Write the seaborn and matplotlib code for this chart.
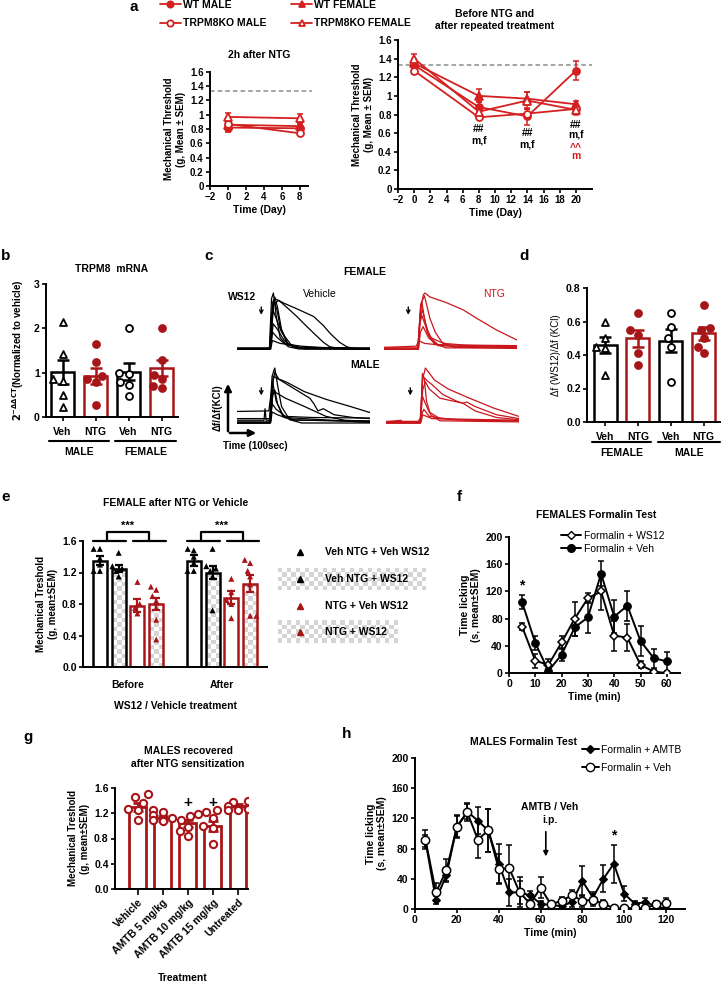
import numpy as np
import pandas as pd
import matplotlib
matplotlib.use("Agg")
import matplotlib.pyplot as plt
from matplotlib.colors import ListedColormap
from matplotlib.lines import Line2D
from matplotlib.patches import FancyArrowPatch
from matplotlib.ticker import FuncFormatter
import seaborn as sns

# ======================= DATA =======================
# --- a : mechanical threshold ---
a_labels = ["WT MALE", "WT FEMALE", "TRPM8KO MALE", "TRPM8KO FEMALE"]
a_days_2h = [0, 8]
a2h_wt_male = [0.82, 0.81]
a2h_wt_male_sem = [0.06, 0.04]
a2h_wt_female = [0.86, 0.84]
a2h_wt_female_sem = [0.04, 0.04]
a2h_ko_male = [0.87, 0.74]
a2h_ko_male_sem = [0.04, 0.03]
a2h_ko_female = [0.97, 0.95]
a2h_ko_female_sem = [0.06, 0.06]
a_days_rep = [0, 8, 14, 20]
arep_wt_male = [1.33, 0.88, 0.78, 1.27]
arep_wt_male_sem = [0.05, 0.05, 0.09, 0.10]
arep_wt_female = [1.35, 1.00, 0.97, 0.91]
arep_wt_female_sem = [0.05, 0.07, 0.07, 0.04]
arep_ko_male = [1.27, 0.77, 0.81, 0.86]
arep_ko_male_sem = [0.03, 0.02, 0.05, 0.04]
arep_ko_female = [1.40, 0.83, 0.95, 0.85]
arep_ko_female_sem = [0.05, 0.04, 0.09, 0.05]
a_baseline = 1.33

# --- b : TRPM8 mRNA ---
b_cats = ["M-Veh", "M-NTG", "F-Veh", "F-NTG"]
b_ticklabels = ["Veh", "NTG", "Veh", "NTG"]
b_means = [1.02, 0.92, 1.02, 1.10]
b_sem = [0.27, 0.18, 0.19, 0.18]
b_pts_m_veh = [2.15, 1.42, 0.85, 0.82, 0.50, 0.22]
b_pts_m_ntg = [1.65, 1.25, 0.92, 0.78, 0.85, 0.28]
b_pts_f_veh = [2.00, 1.00, 0.97, 0.80, 0.72, 0.48]
b_pts_f_ntg = [2.00, 1.28, 0.95, 0.85, 0.70, 0.65]

# --- c : calcium traces (time s, normalised df/df(KCl)) ---
c_tmax = 493
c_ws12_time = 90
c_fem_veh = [
    [(0, 0), (120, 0), (128, 0.9), (135, 1.0), (145, 0.6), (160, 0.2), (190, 0.04), (230, 0), (493, 0)],
    [(0, 0.01), (121, 0.01), (131, 0.75), (140, 0.93), (150, 0.75), (165, 0.35), (190, 0.08), (240, 0.01), (493, 0.01)],
    [(0, 0), (122, 0), (133, 0.85), (140, 0.9), (173, 0.82), (230, 0.70), (284, 0.58), (320, 0.42), (345, 0.28), (380, 0.12), (407, 0.04), (440, 0), (493, 0)],
    [(0, 0), (123, 0), (136, 0.8), (155, 0.87), (190, 0.72), (222, 0.58), (255, 0.42), (285, 0.28), (320, 0.12), (344, 0.04), (389, 0), (493, 0)],
    [(0, 0), (122, 0), (130, 0.6), (138, 0.85), (148, 0.7), (160, 0.4), (185, 0.1), (220, 0.02), (493, 0)],
    [(0, 0), (123, 0), (133, 0.7), (145, 0.55), (165, 0.3), (200, 0.08), (250, 0), (493, 0)],
    [(0, 0), (124, 0), (134, 0.45), (150, 0.35), (175, 0.15), (210, 0.03), (493, 0)],
    [(0, 0.02), (124, 0.02), (132, 0.3), (150, 0.2), (180, 0.08), (230, 0.03), (493, 0.02)],
    [(0, 0), (125, 0), (131, 0.15), (160, 0.1), (240, 0.05), (330, 0.02), (493, 0)],
]
c_fem_ntg = [
    [(0, 0), (125, 0), (135, 0.7), (146, 0.97), (152, 1.0), (170, 0.93), (230, 0.83), (293, 0.70), (350, 0.53), (417, 0.34), (493, 0.16)],
    [(0, 0), (126, 0), (136, 0.8), (150, 0.95), (160, 0.75), (170, 0.55), (190, 0.3), (215, 0.12), (260, 0.03), (493, 0.01)],
    [(0, 0.01), (126, 0.01), (133, 0.55), (140, 0.85), (148, 0.6), (160, 0.3), (185, 0.1), (230, 0.02), (493, 0.02)],
    [(0, 0), (127, 0), (134, 0.5), (142, 0.72), (152, 0.5), (168, 0.22), (200, 0.08), (493, 0.04)],
    [(0, 0.02), (127, 0.02), (133, 0.45), (140, 0.6), (155, 0.4), (175, 0.2), (220, 0.1), (300, 0.07), (493, 0.06)],
    [(0, 0), (128, 0), (135, 0.3), (145, 0.4), (165, 0.2), (200, 0.06), (493, 0.02)],
    [(0, 0.03), (60, 0.04), (120, 0.05), (128, 0.15), (150, 0.1), (250, 0.05), (493, 0.03)],
]
c_male_veh = [
    [(0, 0), (120, 0), (130, 0.85), (140, 1.0), (150, 0.7), (165, 0.3), (195, 0.06), (240, 0), (493, 0)],
    [(0, 0.21), (118, 0.22), (128, 0.6), (140, 0.92), (155, 0.8), (185, 0.74), (250, 0.57), (330, 0.43), (420, 0.3), (493, 0.19)],
    [(0, 0), (123, 0), (134, 0.85), (160, 0.78), (220, 0.6), (270, 0.45), (285, 0.35), (300, 0.22), (320, 0.26), (360, 0.15), (430, 0.1), (493, 0.08)],
    [(0, 0.05), (100, 0.05), (104, 0.26), (108, 0.05), (122, 0.05), (132, 0.75), (145, 0.4), (170, 0.12), (220, 0.05), (493, 0.04)],
    [(0, 0.02), (124, 0.02), (134, 0.6), (145, 0.55), (180, 0.45), (250, 0.3), (330, 0.12), (400, 0.05), (493, 0.03)],
    [(0, 0), (124, 0), (132, 0.5), (140, 0.6), (150, 0.35), (175, 0.1), (493, 0.01)],
    [(0, 0.08), (122, 0.08), (130, 0.35), (145, 0.25), (180, 0.12), (280, 0.1), (493, 0.09)],
    [(0, 0.01), (125, 0.01), (130, 0.2), (150, 0.15), (200, 0.06), (493, 0.02)],
]
c_male_ntg = [
    [(0, 0), (126, 0), (136, 0.8), (146, 1.0), (158, 0.92), (180, 0.78), (230, 0.62), (300, 0.47), (400, 0.27), (493, 0.12)],
    [(0, 0), (127, 0), (136, 0.85), (150, 0.78), (170, 0.7), (210, 0.52), (260, 0.4), (285, 0.36), (300, 0.38), (330, 0.3), (410, 0.15), (493, 0.08)],
    [(0, 0.01), (128, 0.01), (136, 0.6), (146, 0.75), (160, 0.62), (200, 0.45), (285, 0.36), (330, 0.22), (410, 0.1), (493, 0.06)],
    [(0, 0), (128, 0), (135, 0.9), (142, 0.8), (150, 0.4), (165, 0.15), (200, 0.04), (493, 0.02)],
    [(0, 0.02), (128, 0.02), (134, 0.5), (142, 0.4), (160, 0.2), (200, 0.08), (300, 0.05), (493, 0.04)],
    [(0, 0.03), (120, 0.03), (128, 0.1), (140, 0.25), (160, 0.12), (250, 0.06), (493, 0.04)],
    [(0, 0.02), (55, 0.05), (60, 0.02), (130, 0.02), (136, 0.15), (170, 0.08), (493, 0.05)],
]

# --- d : df(WS12)/df(KCl) ---
d_cats = ["F-Veh", "F-NTG", "M-Veh", "M-NTG"]
d_ticklabels = ["Veh", "NTG", "Veh", "NTG"]
d_means = [0.46, 0.50, 0.485, 0.53]
d_sem = [0.05, 0.05, 0.07, 0.04]
d_pts_f_veh = [0.60, 0.50, 0.45, 0.44, 0.28]
d_pts_f_ntg = [0.65, 0.55, 0.52, 0.41, 0.34]
d_pts_m_veh = [0.65, 0.57, 0.50, 0.45, 0.24]
d_pts_m_ntg = [0.70, 0.56, 0.55, 0.50, 0.45, 0.41]

# --- e : female mechanical threshold ---
e_phases = ["Before", "After"]
e_conds = ["Veh NTG + Veh WS12", "Veh NTG + WS12", "NTG + Veh WS12", "NTG + WS12"]
e_means_before = [1.35, 1.25, 0.78, 0.80]
e_sem_before = [0.06, 0.04, 0.08, 0.08]
e_means_after = [1.35, 1.20, 0.88, 1.06]
e_sem_after = [0.07, 0.08, 0.08, 0.11]
e_pts_before = [
    [1.50, 1.50, 1.38, 1.30, 1.22, 1.22],
    [1.45, 1.28, 1.25, 1.22, 1.15],
    [1.08, 0.80, 0.75, 0.68],
    [1.02, 0.98, 0.90, 0.84, 0.75, 0.60, 0.35],
]
e_pts_after = [
    [1.50, 1.48, 1.40, 1.32, 1.22, 1.22],
    [1.50, 1.28, 1.25, 1.22, 1.15, 0.72],
    [1.12, 0.95, 0.85, 0.80, 0.62],
    [1.36, 1.32, 1.22, 1.15, 1.05, 0.65, 0.65],
]

# --- f : female formalin test ---
f_time = [5, 10, 15, 20, 25, 30, 35, 40, 45, 50, 55, 60]
f_ws12 = [68, 18, 12, 45, 80, 110, 120, 55, 52, 12, 2, 0]
f_ws12_sem = [5, 10, 8, 10, 25, 7, 28, 22, 20, 5, 3, 2]
f_veh = [104, 44, 3, 27, 67, 82, 146, 83, 99, 47, 22, 17]
f_veh_sem = [10, 10, 3, 10, 12, 23, 18, 24, 22, 22, 14, 14]

# --- g : males recovered after NTG ---
g_cats = ["Vehicle", "AMTB 5 mg/kg", "AMTB 10 mg/kg", "AMTB 15 mg/kg", "Untreated"]
g_means = [1.30, 1.12, 1.04, 1.00, 1.32]
g_sem = [0.07, 0.04, 0.06, 0.08, 0.03]
g_pts = [
    [1.50, 1.45, 1.37, 1.27, 1.25, 1.10],
    [1.25, 1.22, 1.17, 1.12, 1.09, 1.07],
    [1.19, 1.15, 1.10, 0.99, 0.92, 0.84],
    [1.25, 1.22, 1.12, 1.00, 0.96, 0.72],
    [1.39, 1.38, 1.31, 1.27, 1.25, 1.25],
]
g_plus_cats = [2, 3]

# --- h : male formalin test ---
h_time = [5, 10, 15, 20, 25, 30, 35, 40, 45, 50, 55, 60, 65, 70, 75, 80, 85, 90, 95, 100, 105, 110, 115, 120]
h_amtb = [90, 12, 45, 109, 129, 117, 104, 60, 22, 22, 18, 7, 5, 4, 9, 37, 15, 40, 60, 20, 7, 9, 4, 0]
h_amtb_sem = [8, 5, 8, 14, 10, 18, 28, 26, 18, 15, 6, 4, 2, 3, 7, 20, 8, 18, 25, 10, 3, 5, 2, 2]
h_veh = [92, 22, 51, 109, 128, 92, 104, 53, 54, 22, 7, 28, 6, 11, 18, 11, 12, 7, 1, 1, 1, 1, 6, 8]
h_veh_sem = [12, 12, 15, 15, 12, 25, 28, 20, 31, 20, 10, 14, 4, 5, 7, 8, 8, 5, 2, 2, 2, 2, 4, 6]
h_injection_time = 62.5

# ======================= STYLE =======================
sns.set_theme(style="ticks")
plt.rcParams["font.family"] = ["Liberation Sans", "DejaVu Sans"]
plt.rcParams["font.weight"] = "bold"
plt.rcParams["axes.labelweight"] = "bold"
plt.rcParams["axes.linewidth"] = 1.4
plt.rcParams["axes.edgecolor"] = "black"
plt.rcParams["text.color"] = "black"
plt.rcParams["axes.labelcolor"] = "black"

RA = "#D42020"      # panel a red
DRED = "#A81518"    # bars / points red
TRC = "#C9161C"     # trace red

W, H = 722, 984
fig = plt.figure(figsize=(W / 100, H / 100), dpi=100)


def fx(x):
    return x / W


def fy(y):
    return 1 - y / H


def px_axes(l, t, r, b):
    return fig.add_axes([fx(l), fy(b), (r - l) / W, (b - t) / H])


def ftext(x, y, s, **kw):
    kw.setdefault("ha", "center")
    kw.setdefault("va", "center")
    kw.setdefault("fontsize", 7.5)
    kw.setdefault("fontweight", "bold")
    fig.text(fx(x), fy(y), s, **kw)


def style_axes(ax, labelsize=7):
    sns.despine(ax=ax)
    ax.tick_params(direction="out", length=3, width=1.2, labelsize=labelsize, pad=1.5, colors="black")
    for s in ("left", "bottom"):
        ax.spines[s].set_linewidth(1.4)
        ax.spines[s].set_color("black")


fmt_g = FuncFormatter(lambda v, p: f"{v:g}")
fmt_1 = FuncFormatter(lambda v, p: f"{v:.1f}")
checker_cmap = ListedColormap(["#d5d5d5", "#ffffff"])


def checker_image(ax, x0, x1, y0, y1, zorder, cell_px=4.0, clip=None):
    p0 = ax.transData.transform((x0, y0))
    p1 = ax.transData.transform((x1, y1))
    nx = max(1, int(round(abs(p1[0] - p0[0]) / cell_px)))
    ny = max(1, int(round(abs(p1[1] - p0[1]) / cell_px)))
    arr = np.add.outer(np.arange(ny), np.arange(nx)) % 2
    im = ax.imshow(arr, extent=[x0, x1, y0, y1], cmap=checker_cmap, vmin=0, vmax=1,
                   interpolation="nearest", aspect="auto", origin="lower", zorder=zorder)
    if clip is not None:
        im.set_clip_path(clip)
    return im


def bar_points(ax, cats, means, sems, edgecols, pts_list, markers, faces, width, msize,
               lw_bar=1.8, capsize=4.5, pt_lw=1.3):
    df = pd.DataFrame({"cat": cats, "v": means})
    sns.barplot(data=df, x="cat", y="v", order=cats, ax=ax, color="white", width=width,
                errorbar=None, linewidth=lw_bar, edgecolor="black")
    for p, ec in zip(ax.patches, edgecols):
        p.set_edgecolor(ec)
        p.set_facecolor("white")
        p.set_linewidth(lw_bar)
    for i, (m, s, ec) in enumerate(zip(means, sems, edgecols)):
        ax.errorbar(i, m, yerr=s, fmt="none", ecolor=ec, elinewidth=lw_bar, capsize=capsize,
                    capthick=lw_bar, zorder=3)
    for cat, pts, mk, fc, ec in zip(cats, pts_list, markers, faces, edgecols):
        d = pd.DataFrame({"cat": [cat] * len(pts), "v": pts})
        sns.swarmplot(data=d, x="cat", y="v", order=cats, ax=ax, marker=mk, color=fc,
                      edgecolor=ec, linewidth=pt_lw, size=msize, zorder=4)
    ax.set_xlabel("")
    ax.set_ylabel("")


def group_labels(ax, spans, names, y_line, y_text, fs=7.5):
    tr = ax.get_xaxis_transform()
    for (x0, x1), name in zip(spans, names):
        ax.plot([x0, x1], [y_line, y_line], transform=tr, color="black", lw=1.5, clip_on=False)
        ax.text((x0 + x1) / 2, y_text, name, transform=tr, ha="center", va="center",
                fontsize=fs, fontweight="bold")


# ======================= PANEL a =======================
a_style = {"WT MALE": ("o", RA, 5.0), "WT FEMALE": ("^", RA, 5.5),
           "TRPM8KO MALE": ("o", "white", 5.0), "TRPM8KO FEMALE": ("^", "white", 5.5)}


def draw_a(ax, days, series):
    for lab, vals, sems in series:
        mk, fc, ms = a_style[lab]
        ax.errorbar(days, vals, yerr=sems, fmt="none", ecolor=RA, elinewidth=1.1, capsize=2,
                    capthick=1.1, zorder=2)
        sns.lineplot(x=days, y=vals, ax=ax, color=RA, lw=1.3, marker=mk, markersize=ms,
                     markerfacecolor=fc, markeredgecolor=RA, markeredgewidth=1.3, zorder=3,
                     estimator=None)


ax_a1 = px_axes(210, 72, 308, 186)
draw_a(ax_a1, a_days_2h, [("WT MALE", a2h_wt_male, a2h_wt_male_sem),
                          ("WT FEMALE", a2h_wt_female, a2h_wt_female_sem),
                          ("TRPM8KO MALE", a2h_ko_male, a2h_ko_male_sem),
                          ("TRPM8KO FEMALE", a2h_ko_female, a2h_ko_female_sem)])
ax_a1.plot([-2, 9.4], [a_baseline, a_baseline], ls=(0, (3, 2)), color="#8a8a8a", lw=1.1,
           clip_on=False, zorder=1)
ax_a1.set_xlim(-2, 8.9)
ax_a1.set_ylim(0, 1.6)
ax_a1.set_xticks(range(-2, 9, 2))
ax_a1.set_yticks(np.arange(0, 1.61, 0.2))
ax_a1.yaxis.set_major_formatter(fmt_g)
style_axes(ax_a1)
ax_a1.set_xlabel("Time (Day)", fontsize=7.5, labelpad=2)
ax_a1.set_ylabel("Mechanical Threshold\n(g, Mean ± SEM)", fontsize=7, labelpad=3)
ftext(259, 55, "2h after NTG")

ax_a2 = px_axes(398, 40, 592, 189)
draw_a(ax_a2, a_days_rep, [("WT MALE", arep_wt_male, arep_wt_male_sem),
                           ("WT FEMALE", arep_wt_female, arep_wt_female_sem),
                           ("TRPM8KO MALE", arep_ko_male, arep_ko_male_sem),
                           ("TRPM8KO FEMALE", arep_ko_female, arep_ko_female_sem)])
ax_a2.plot([-2, 22], [a_baseline, a_baseline], ls=(0, (3, 2)), color="#8a8a8a", lw=1.1,
           clip_on=False, zorder=1)
ax_a2.set_xlim(-2, 22)
ax_a2.set_ylim(0, 1.6)
ax_a2.set_xticks(range(-2, 21, 2))
ax_a2.set_yticks(np.arange(0, 1.61, 0.2))
ax_a2.yaxis.set_major_formatter(fmt_g)
style_axes(ax_a2)
ax_a2.set_xlabel("Time (Day)", fontsize=7.5, labelpad=2)
ax_a2.set_ylabel("Mechanical Threshold\n(g, Mean ± SEM)", fontsize=7, labelpad=3)
for xd, yv, s, col in [(8, 0.64, "##", "black"), (8, 0.52, "m,f", "black"),
                       (14, 0.60, "##", "black"), (14, 0.48, "m,f", "black"),
                       (20, 0.69, "##", "black"), (20, 0.58, "m,f", "black"),
                       (20, 0.44, "^^", RA), (20, 0.35, "m", RA)]:
    ax_a2.text(xd, yv, s, ha="center", va="center", fontsize=7.5, color=col, fontweight="bold")
ftext(495, 14, "Before NTG and")
ftext(495, 26, "after repeated treatment")

leg_handles = []
for lab in ["WT MALE", "TRPM8KO MALE", "WT FEMALE", "TRPM8KO FEMALE"]:
    mk, fc, ms = a_style[lab]
    leg_handles.append(Line2D([0], [0], color=RA, lw=1.3, marker=mk, ms=ms - 0.5, mfc=fc,
                              mec=RA, mew=1.3, label=lab))
fig.legend(handles=leg_handles, loc="upper left", bbox_to_anchor=(fx(160), fy(0)), ncol=2,
           frameon=False, fontsize=7.5, handlelength=2.0, columnspacing=2.4, labelspacing=0.8,
           handletextpad=0.2, borderaxespad=0, borderpad=0)
ftext(134, 7, "a", fontsize=11)

# ======================= PANEL b =======================
ax_b = px_axes(46, 284, 178, 417)
bar_points(ax_b, b_cats, b_means, b_sem, ["black", DRED, "black", DRED],
           [b_pts_m_veh, b_pts_m_ntg, b_pts_f_veh, b_pts_f_ntg],
           ["^", "o", "o", "o"], ["white", DRED, "white", DRED], width=0.67, msize=5)
ax_b.set_xlim(-0.5, 3.5)
ax_b.set_ylim(0, 3)
ax_b.set_yticks([0, 1, 2, 3])
style_axes(ax_b, labelsize=7.5)
ax_b.set_xticks(range(4))
ax_b.set_xticklabels(b_ticklabels, fontsize=7.5)
ax_b.tick_params(axis="x", pad=4)
ax_b.set_ylabel(r"$\mathbf{2^{-\Delta\Delta CT}}$(Normalized to vehicle)", fontsize=7, labelpad=6)
group_labels(ax_b, [(-0.4, 1.4), (1.6, 3.45)], ["MALE", "FEMALE"], -0.18, -0.265)
ftext(112, 269, "TRPM8  mRNA")
ftext(6, 256, "b", fontsize=11)

# ======================= PANEL c =======================
def trace_ax(l, t, r, b, base_px, peak_px, traces, color):
    ax = px_axes(l, t, r, b)
    for tr in traces:
        sns.lineplot(x=[p[0] for p in tr], y=[p[1] for p in tr], ax=ax, color=color, lw=0.9,
                     estimator=None, sort=False)
    ppu = base_px - peak_px
    ax.set_xlim(0, c_tmax)
    ax.set_ylim(-(b - base_px) / ppu, 1 + (peak_px - t) / ppu)
    ax.axis("off")
    return ax


ax_c1 = trace_ax(237, 285, 370, 356, 349, 293, c_fem_veh, "black")
ax_c2 = trace_ax(384, 285, 517, 356, 349, 293, c_fem_ntg, TRC)
ax_c3 = trace_ax(237, 360, 370, 430, 423, 368, c_male_veh, "black")
ax_c4 = trace_ax(386, 360, 519, 430, 423, 368, c_male_ntg, TRC)
for ax_c, y_top, y_bot in [(ax_c1, 0.80, 0.56), (ax_c2, 0.80, 0.56), (ax_c3, 0.69, 0.45), (ax_c4, 0.69, 0.45)]:
    ax_c.annotate("", xy=(c_ws12_time, y_bot), xytext=(c_ws12_time, y_top),
                  arrowprops=dict(arrowstyle="->", lw=1.0, color="black", mutation_scale=6))
fig.add_artist(FancyArrowPatch((fx(228), fy(434)), (fx(228), fy(381)), transform=fig.transFigure,
                               arrowstyle="-|>", mutation_scale=10, lw=1.8, color="black"))
fig.add_artist(FancyArrowPatch((fx(227), fy(433)), (fx(259), fy(433)), transform=fig.transFigure,
                               arrowstyle="-|>", mutation_scale=10, lw=1.8, color="black"))
ftext(218, 408, "Δf/Δf(KCl)", rotation=90, fontsize=7)
ftext(255, 446, "Time (100sec)", fontsize=7)
ftext(365, 272, "FEMALE")
ftext(365, 365, "MALE")
ftext(320, 294, "Vehicle", fontweight="normal")
ftext(494, 294, "NTG", fontweight="normal", color=TRC)
ftext(242, 297, "WS12")
ftext(209, 256, "c", fontsize=11)

# ======================= PANEL d =======================
ax_d = px_axes(587, 288, 720, 422)
bar_points(ax_d, d_cats, d_means, d_sem, ["black", DRED, "black", DRED],
           [d_pts_f_veh, d_pts_f_ntg, d_pts_m_veh, d_pts_m_ntg],
           ["^", "o", "o", "o"], ["white", DRED, "white", DRED], width=0.7, msize=5)
ax_d.set_xlim(-0.55, 3.5)
ax_d.set_ylim(0, 0.8)
ax_d.set_yticks(np.arange(0, 0.81, 0.2))
ax_d.yaxis.set_major_formatter(fmt_1)
style_axes(ax_d, labelsize=7.5)
ax_d.set_xticks(range(4))
ax_d.set_xticklabels(d_ticklabels, fontsize=7.5)
ax_d.tick_params(axis="x", pad=4)
ax_d.set_ylabel("Δf (WS12)/Δf (KCl)", fontsize=7, fontweight="normal", labelpad=4)
group_labels(ax_d, [(-0.4, 1.4), (1.6, 3.5)], ["FEMALE", "MALE"], -0.15, -0.235)
ftext(524, 256, "d", fontsize=11)

# ======================= PANEL e =======================
ax_e = px_axes(83, 541, 267, 667)
e_df = pd.DataFrame({
    "phase": [p for p in e_phases for _ in e_conds],
    "cond": e_conds * 2,
    "v": e_means_before + e_means_after,
})
sns.barplot(data=e_df, x="phase", y="v", hue="cond", order=e_phases, hue_order=e_conds,
            width=0.8, gap=0.25, palette=["white"] * 4, errorbar=None, legend=False, ax=ax_e,
            linewidth=1.8, edgecolor="black")
e_bar_cols = ["black", "black", DRED, DRED]
e_checker = [False, True, False, True]
bars_e = [list(c) for c in ax_e.containers]
ax_e.set_xlim(-0.48, 1.48)
ax_e.set_ylim(0, 1.6)
for ci, bars in enumerate(bars_e):
    for bj, bar in enumerate(bars):
        bar.set_edgecolor(e_bar_cols[ci])
        bar.set_linewidth(1.8)
        if e_checker[ci]:
            bar.set_facecolor("none")
            bar.set_zorder(1.6)
            checker_image(ax_e, bar.get_x(), bar.get_x() + bar.get_width(), 0, bar.get_height(),
                          zorder=1.5, cell_px=4.5, clip=bar)
        else:
            bar.set_facecolor("white")
        sem = (e_sem_before if bj == 0 else e_sem_after)[ci]
        ax_e.errorbar(bar.get_x() + bar.get_width() / 2, bar.get_height(), yerr=sem, fmt="none",
                      ecolor=e_bar_cols[ci], elinewidth=1.6, capsize=3, capthick=1.6, zorder=3)
e_pts_df = pd.DataFrame({
    "phase": [ph for ph, grp in zip(e_phases, [e_pts_before, e_pts_after]) for pts in grp for _ in pts],
    "cond": [c for grp in [e_pts_before, e_pts_after] for c, pts in zip(e_conds, grp) for _ in pts],
    "v": [v for grp in [e_pts_before, e_pts_after] for pts in grp for v in pts],
})
sns.swarmplot(data=e_pts_df, x="phase", y="v", hue="cond", order=e_phases, hue_order=e_conds,
              dodge=True, palette=["black", "black", DRED, DRED], marker="^", size=4.3,
              linewidth=0, legend=False, ax=ax_e, zorder=4)
ax_e.set_xlim(-0.48, 1.48)
ax_e.set_ylim(0, 1.6)
ax_e.set_yticks(np.arange(0, 1.61, 0.4))
ax_e.yaxis.set_major_formatter(fmt_1)
style_axes(ax_e, labelsize=7.5)
ax_e.tick_params(axis="x", length=0, pad=9, labelsize=7.5)
ax_e.set_xlabel("WS12 / Vehicle treatment", fontsize=7.5, labelpad=8)
ax_e.set_ylabel("Mechanical Treshold\n(g, mean±SEM)", fontsize=7, labelpad=3)
for g0 in [0, 1]:
    for x0, x1 in [(-0.37, -0.02), (0.05, 0.40)]:
        ax_e.plot([g0 + x0, g0 + x1], [1.6, 1.6], color="black", lw=1.6, clip_on=False)
    ax_e.plot([g0 - 0.22, g0 - 0.22, g0 + 0.22, g0 + 0.22], [1.6, 1.71, 1.71, 1.6], color="black",
              lw=1.6, clip_on=False)
    ax_e.text(g0, 1.79, "***", ha="center", va="center", fontsize=8, fontweight="bold")
ftext(176, 503, "FEMALE after NTG or Vehicle")
ftext(6, 497, "e", fontsize=11)

# legend of panel e (with checkered rows)
ax_el = px_axes(270, 538, 722, 648)
ax_el.set_xlim(270, 722)
ax_el.set_ylim(648, 538)
ax_el.axis("off")
leg_rows_y = [552, 579, 606, 632]
checker_image(ax_el, 278, 426, 590, 568, zorder=0.5, cell_px=4.5)
checker_image(ax_el, 278, 398, 643, 621, zorder=0.5, cell_px=4.5)
ax_el.set_xlim(270, 722)
ax_el.set_ylim(648, 538)
for yy, lab, col in zip(leg_rows_y, e_conds, e_bar_cols):
    ax_el.plot([300], [yy], marker="^", color=col, ms=5, ls="none", zorder=2)
    ax_el.text(325, yy, lab, ha="left", va="center", fontsize=7.5, fontweight="bold", zorder=2)

# ======================= PANEL f =======================
ax_f = px_axes(509, 537, 680, 673)
ax_f.errorbar(f_time, f_ws12, yerr=f_ws12_sem, fmt="none", ecolor="black", elinewidth=1.1,
              capsize=2, capthick=1.1, zorder=2)
ax_f.errorbar(f_time, f_veh, yerr=f_veh_sem, fmt="none", ecolor="black", elinewidth=1.1,
              capsize=2, capthick=1.1, zorder=2)
sns.lineplot(x=f_time, y=f_ws12, ax=ax_f, color="black", lw=1.4, marker="D", markersize=4.5,
             markerfacecolor="white", markeredgecolor="black", markeredgewidth=1.1, zorder=3,
             estimator=None)
sns.lineplot(x=f_time, y=f_veh, ax=ax_f, color="black", lw=1.4, marker="o", markersize=5.5,
             markerfacecolor="black", markeredgecolor="black", zorder=3, estimator=None)
ax_f.set_xlim(0, 65)
ax_f.set_ylim(0, 200)
ax_f.set_xticks(range(0, 61, 10))
ax_f.set_yticks(range(0, 201, 40))
style_axes(ax_f, labelsize=7.5)
ax_f.set_xlabel("Time (min)", fontsize=7.5, labelpad=2)
ax_f.set_ylabel("Time licking\n(s, mean±SEM)", fontsize=7.5, labelpad=3)
ax_f.text(5, 128, "*", ha="center", va="center", fontsize=10, fontweight="bold")
f_handles = [Line2D([0], [0], color="black", lw=1.4, marker="D", ms=4.5, mfc="white", mec="black",
                    label="Formalin + WS12"),
             Line2D([0], [0], color="black", lw=1.4, marker="o", ms=5.5, mfc="black", mec="black",
                    label="Formalin + Veh")]
ax_f.legend(handles=f_handles, loc="upper left", bbox_to_anchor=(fx(561), fy(531)),
            bbox_transform=fig.transFigure, frameon=False, prop={"size": 7.5, "weight": "normal"},
            handlelength=1.9, handletextpad=0.3, labelspacing=0.25, borderpad=0, borderaxespad=0)
ftext(596, 515, "FEMALES Formalin Test")
ftext(459, 497, "f", fontsize=11)

# ======================= PANEL g =======================
ax_g = px_axes(115, 788, 248, 889)
bar_points(ax_g, g_cats, g_means, g_sem, [DRED] * 5, g_pts, ["o"] * 5, ["white"] * 5,
           width=0.67, msize=5.2, lw_bar=2.0, capsize=3.5, pt_lw=1.5)
ax_g.set_xlim(-0.9, 4.4)
ax_g.set_ylim(0, 1.6)
ax_g.set_yticks(np.arange(0, 1.61, 0.4))
ax_g.yaxis.set_major_formatter(fmt_1)
style_axes(ax_g, labelsize=7.5)
ax_g.set_xticks(range(5))
ax_g.set_xticklabels(g_cats, rotation=45, ha="right", rotation_mode="anchor", fontsize=7.5)
ax_g.tick_params(axis="x", length=4, pad=2)
ax_g.set_ylabel("Mechanical Treshold\n(g, mean±SEM)", fontsize=7, labelpad=3)
for ci in g_plus_cats:
    ax_g.text(ci, 1.37, "+", ha="center", va="center", fontsize=11, fontweight="bold")
ftext(183, 978, "Treatment")
ftext(188, 751, "MALES recovered")
ftext(188, 764, "after NTG sensitization")
ftext(28, 737, "g", fontsize=11)

# ======================= PANEL h =======================
ax_h = px_axes(415, 758, 685, 909)
ax_h.errorbar(h_time, h_veh, yerr=h_veh_sem, fmt="none", ecolor="black", elinewidth=1.1,
              capsize=2, capthick=1.1, zorder=2)
ax_h.errorbar(h_time, h_amtb, yerr=h_amtb_sem, fmt="none", ecolor="black", elinewidth=1.1,
              capsize=2, capthick=1.1, zorder=2)
sns.lineplot(x=h_time, y=h_amtb, ax=ax_h, color="black", lw=1.4, marker="D", markersize=4.2,
             markerfacecolor="black", markeredgecolor="black", zorder=3, estimator=None)
sns.lineplot(x=h_time, y=h_veh, ax=ax_h, color="black", lw=1.4, marker="o", markersize=6,
             markerfacecolor="white", markeredgecolor="black", markeredgewidth=1.1, zorder=4,
             estimator=None)
ax_h.set_xlim(0, 129)
ax_h.set_ylim(0, 200)
ax_h.set_xticks(range(0, 121, 20))
ax_h.set_yticks(range(0, 201, 40))
style_axes(ax_h, labelsize=7.5)
ax_h.set_xlabel("Time (min)", fontsize=7.5, labelpad=2)
ax_h.set_ylabel("Time licking\n(s, mean±SEM)", fontsize=7.5, labelpad=3)
ax_h.text(95, 97, "*", ha="center", va="center", fontsize=10, fontweight="bold")
ax_h.text(h_injection_time + 2, 135, "AMTB / Veh", ha="center", va="center", fontsize=7.5,
          fontweight="bold")
ax_h.text(h_injection_time + 2, 118, "i.p.", ha="center", va="center", fontsize=7.5,
          fontweight="bold")
ax_h.annotate("", xy=(h_injection_time, 66), xytext=(h_injection_time, 106),
              arrowprops=dict(arrowstyle="-|>", lw=1.2, color="black", mutation_scale=7))
h_handles = [Line2D([0], [0], color="black", lw=1.4, marker="D", ms=4.2, mfc="black", mec="black",
                    label="Formalin + AMTB"),
             Line2D([0], [0], color="black", lw=1.4, marker="o", ms=6, mfc="white", mec="black",
                    label="Formalin + Veh")]
ax_h.legend(handles=h_handles, loc="upper left", bbox_to_anchor=(fx(582), fy(745)),
            bbox_transform=fig.transFigure, frameon=False, prop={"size": 7.5, "weight": "normal"},
            handlelength=1.6, handletextpad=0.25, labelspacing=0.75, borderpad=0, borderaxespad=0)
ftext(524, 742, "MALES Formalin Test")
ftext(347, 734, "h", fontsize=11)

fig.savefig("out.png", dpi=100)
